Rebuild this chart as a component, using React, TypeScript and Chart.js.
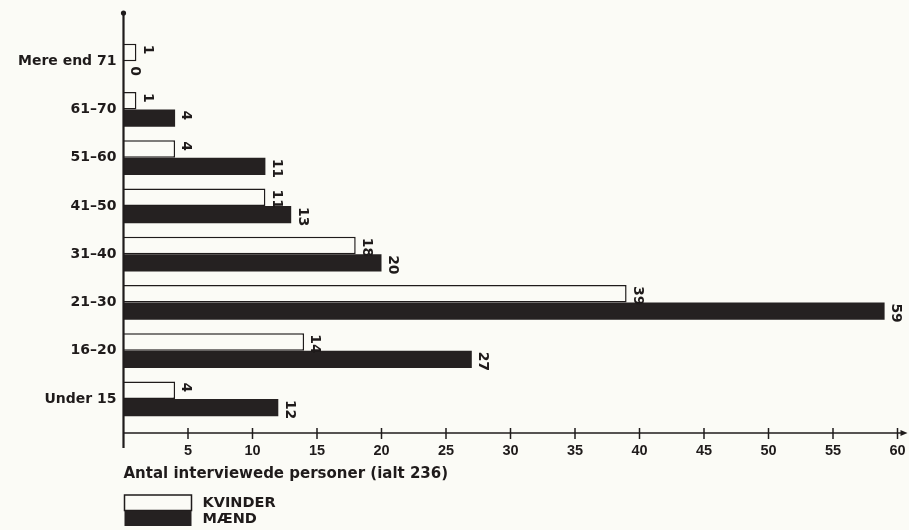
import React, { useEffect, useRef } from 'react';
import { Chart, registerables } from 'chart.js';

Chart.register(...registerables);

// ---- data ----
const categories = ['Mere end 71', '61–70', '51–60', '41–50', '31–40', '21–30', '16–20', 'Under 15'];
const kvinder = [1, 1, 4, 11, 18, 39, 14, 4];
const maend = [0, 4, 11, 13, 20, 59, 27, 12];
const seriesNames = ['KVINDER', 'MÆND'];
const axisTitle = 'Antal interviewede personer (ialt 236)';
const xMin = 0;
const xMax = 60;
const xStep = 5;

// ---- styles ----
const INK = '#1f1b1b';
const BG = '#fbfbf6';
const BAR_DARK = '#252121';

const bgPlugin = {
  id: 'bgFill',
  beforeDraw(chart: any) {
    const { ctx, width, height } = chart;
    ctx.save();
    ctx.fillStyle = BG;
    ctx.fillRect(0, 0, width, height);
    ctx.restore();
  },
};

const axesPlugin = {
  id: 'axesArrows',
  afterDatasetsDraw(chart: any) {
    const { ctx, chartArea } = chart;
    const x = chart.scales.x;
    const x0 = x.getPixelForValue(0);
    const axisY = chartArea.bottom + 10;
    ctx.save();
    ctx.strokeStyle = INK;
    ctx.fillStyle = INK;
    // y axis
    ctx.lineWidth = 2.2;
    ctx.beginPath();
    ctx.moveTo(x0, 13);
    ctx.lineTo(x0, axisY + 15);
    ctx.stroke();
    ctx.beginPath();
    ctx.arc(x0, 13, 2.6, 0, Math.PI * 2);
    ctx.fill();
    // x axis
    ctx.lineWidth = 1.5;
    ctx.beginPath();
    ctx.moveTo(x0, axisY);
    ctx.lineTo(x.right + 7, axisY);
    ctx.stroke();
    ctx.beginPath();
    ctx.moveTo(x.right + 10, axisY);
    ctx.lineTo(x.right + 3, axisY - 3);
    ctx.lineTo(x.right + 3, axisY + 3);
    ctx.closePath();
    ctx.fill();
    x.ticks.forEach((t: any) => {
      if (t.value === 0) return;
      const px = x.getPixelForValue(t.value);
      ctx.beginPath();
      ctx.moveTo(px, axisY - 5);
      ctx.lineTo(px, axisY + 6);
      ctx.stroke();
    });
    ctx.restore();
  },
};

const valueLabelPlugin = {
  id: 'valueLabels',
  afterDatasetsDraw(chart: any) {
    const { ctx } = chart;
    ctx.save();
    ctx.fillStyle = INK;
    ctx.font = 'bold 14px "DejaVu Sans"';
    ctx.textAlign = 'left';
    ctx.textBaseline = 'bottom';
    chart.data.datasets.forEach((ds: any, di: number) => {
      const meta = chart.getDatasetMeta(di);
      meta.data.forEach((el: any, i: number) => {
        const top = el.y - el.height / 2;
        const v = ds.data[i];
        ctx.save();
        ctx.translate(el.x + 4, top + (v === 0 ? 5 : 1));
        ctx.rotate(Math.PI / 2);
        ctx.fillText(String(v), 0, 0);
        ctx.restore();
      });
    });
    ctx.restore();
  },
};

const legendPlugin = {
  id: 'boxLegend',
  afterDraw(chart: any) {
    const { ctx, chartArea } = chart;
    const left = chartArea.left + 1;
    const w = 67;
    const h = 15.5;
    const top = 495;
    ctx.save();
    chart.data.datasets.forEach((ds: any, i: number) => {
      const y = top + i * h;
      ctx.fillStyle = ds.backgroundColor;
      ctx.fillRect(left, y, w, h);
      if (ds.borderWidth) {
        ctx.strokeStyle = ds.borderColor;
        ctx.lineWidth = 1.5;
        ctx.strokeRect(left, y, w, h);
      }
      ctx.fillStyle = INK;
      ctx.font = 'bold 14.5px "DejaVu Sans"';
      ctx.textAlign = 'left';
      ctx.textBaseline = 'middle';
      ctx.fillText(ds.label, left + 78, y + h / 2 + 0.5);
    });
    ctx.restore();
  },
};

export default function App() {
  const canvasRef = useRef<HTMLCanvasElement | null>(null);

  useEffect(() => {
    if (!canvasRef.current) return;
    const chart = new Chart(canvasRef.current, {
      type: 'bar',
      data: {
        labels: categories,
        datasets: [
          {
            label: seriesNames[0],
            data: kvinder,
            backgroundColor: BG,
            borderColor: INK,
            borderWidth: 1.5,
            borderSkipped: 'start',
            categoryPercentage: 0.72,
            barPercentage: 1.0,
          },
          {
            label: seriesNames[1],
            data: maend,
            backgroundColor: BAR_DARK,
            borderWidth: 0,
            categoryPercentage: 0.72,
            barPercentage: 1.0,
          },
        ],
      },
      options: {
        indexAxis: 'y',
        responsive: false,
        animation: false,
        layout: { padding: { left: 0, right: 11.5, top: 37, bottom: 0 } },
        plugins: {
          legend: { display: false },
          tooltip: { enabled: false },
        },
        scales: {
          x: {
            type: 'linear',
            min: xMin,
            max: xMax,
            grid: {
              display: true,
              drawOnChartArea: false,
              drawTicks: true,
              tickLength: 16,
              color: 'rgba(0,0,0,0)',
            },
            border: { display: false },
            ticks: {
              stepSize: xStep,
              color: INK,
              padding: 3,
              font: { family: '"Liberation Sans"', weight: 'bold', size: 14.5 },
              callback: (v: any) => (v === 0 ? '' : String(v)),
            },
            title: {
              display: true,
              text: axisTitle,
              align: 'start',
              color: INK,
              font: { family: '"DejaVu Sans"', weight: 'bold', size: 15 },
              padding: { top: 0, bottom: 47 },
            },
            afterFit: (scale: any) => {
              scale.height = 107;
            },
          },
          y: {
            type: 'category',
            grid: { display: false, drawTicks: false },
            border: { display: false },
            ticks: {
              color: INK,
              padding: 7,
              font: { family: '"DejaVu Sans"', weight: 'bold', size: 14 },
            },
            afterFit: (scale: any) => {
              scale.width = 123.5;
            },
          },
        },
      } as any,
      plugins: [bgPlugin, axesPlugin, valueLabelPlugin, legendPlugin],
    });
    return () => chart.destroy();
  }, []);

  return (
    <div
      style={{
        position: 'fixed',
        left: 0,
        top: 0,
        width: 909,
        height: 530,
        background: BG,
      }}
    >
      <canvas ref={canvasRef} width={909} height={530} style={{ width: 909, height: 530 }} />
    </div>
  );
}
